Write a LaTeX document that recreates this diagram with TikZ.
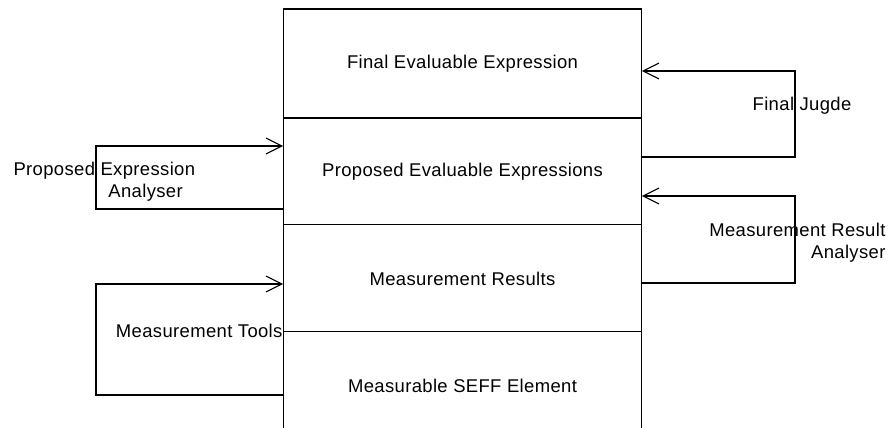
\documentclass[tikz,border=0pt]{standalone}
\usepackage{fontspec}
\setmainfont[LetterSpace=2]{Liberation Sans}
\usetikzlibrary{positioning,arrows.meta}

\begin{document}
\begin{tikzpicture}[x = .02cm, y = -.02cm, line width = .6pt,
  every node/.style={font=\fontsize{10.5}{12.6}\selectfont, inner sep = 0pt},
  layer/.style={draw, minimum width = 7.18cm, minimum height = 2.14cm, outer sep = 0pt},
  flow/.style={-{Straight Barb[length=9pt, width=9pt]}}]
  \useasboundingbox (0,0) rectangle (889,428);
  \node [layer, minimum height = 2.18cm] (final) at (462.5,63.5) {Final Evaluable Expression};
  \node [layer, below = 0pt of final] (proposed) {Proposed Evaluable Expressions};
  \node [layer, below = 0pt of proposed] (results) {Measurement Results};
  \node [layer, below = 0pt of results] (measurable) {Measurable SEFF Element};
  % loops on the left
  \draw [flow] (proposed.west |- 0,209) -| (96,146) -- (proposed.west |- 0,146);
  \draw [flow] (measurable.west |- 0,395) -| (96,284) -- (results.west |- 0,284);
  % loops on the right
  \draw [flow] (proposed.east |- 0,157) -| (795,71) -- (final.east |- 0,71);
  \draw [flow] (results.east |- 0,283) -| (795,196) -- (proposed.east |- 0,196);
  % labels
  \node [anchor = west, align = left] (pea) at (13,182) {Proposed Expression\\\hspace*{54pt}Analyser};
  \node [anchor = east] (tools) at (283,331) {Measurement Tools};
  \node (judge) at (802,106) {Final Jugde};
  \node [anchor = east, align = right] (mra) at (886,243) {Measurement Result\\Analyser};
\end{tikzpicture}
\end{document}
